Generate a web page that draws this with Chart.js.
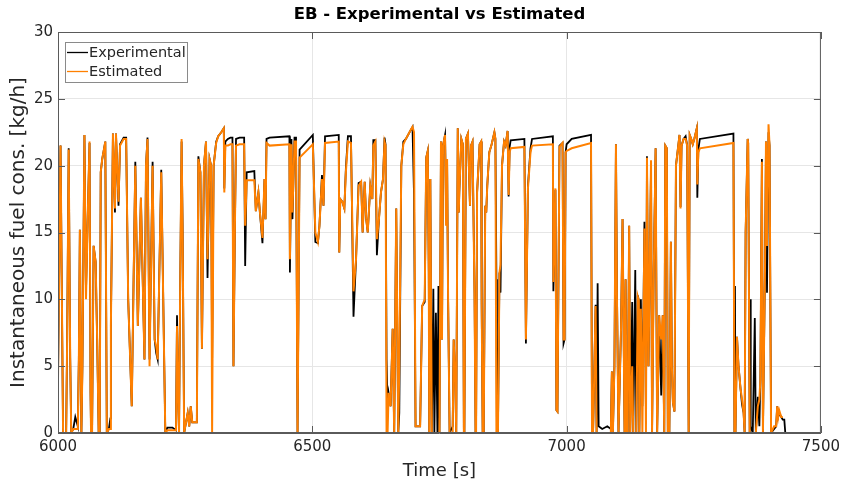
<!DOCTYPE html>
<html>
<head>
<meta charset="utf-8">
<script src="https://cdn.jsdelivr.net/npm/chart.js@4.4.0/dist/chart.umd.min.js"></script>
<style>
  html, body { margin: 0; padding: 0; background: #fff; }
  #wrap { width: 845px; height: 490px; }
</style>
</head>
<body>
<div id="wrap"><canvas id="fuelChart" width="845" height="490"></canvas></div>
<script>
// time stamps [s]
const timeS = [
  6000, 6005, 6010, 6016, 6018, 6021, 6024, 6026, 6030, 6034,
  6039, 6041, 6043, 6046, 6048, 6052, 6055, 6059, 6062, 6064,
  6065, 6067, 6070, 6074, 6077, 6080, 6082, 6084, 6087, 6093,
  6096, 6100, 6103, 6104, 6108, 6112, 6114, 6119, 6122, 6129,
  6134, 6138, 6145, 6152, 6157, 6163, 6170, 6173, 6176, 6180,
  6186, 6190, 6193, 6196, 6203, 6211, 6215, 6225, 6232, 6234,
  6236, 6238, 6240, 6243, 6245, 6248, 6255, 6258, 6261, 6264,
  6273, 6276, 6280, 6283, 6287, 6291, 6294, 6298, 6301, 6303,
  6306, 6311, 6315, 6321, 6326, 6327, 6329, 6334, 6339, 6343,
  6345, 6348, 6350, 6357, 6366, 6368, 6371, 6386, 6389, 6394,
  6397, 6402, 6406, 6408, 6410, 6416, 6455, 6456, 6459, 6461,
  6465, 6468, 6471, 6475, 6501, 6506, 6511, 6514, 6519, 6522,
  6525, 6552, 6553, 6555, 6559, 6563, 6566, 6570, 6576, 6581,
  6586, 6591, 6596, 6599, 6603, 6606, 6609, 6614, 6618, 6620,
  6624, 6627, 6631, 6635, 6639, 6642, 6644, 6646, 6648, 6650,
  6654, 6658, 6661, 6665, 6669, 6671, 6675, 6679, 6684, 6694,
  6697, 6700, 6703, 6712, 6716, 6721, 6724, 6727, 6729, 6730,
  6732, 6735, 6738, 6740, 6743, 6746, 6748, 6750, 6753, 6755,
  6757, 6761, 6763, 6765, 6767, 6770, 6776, 6778, 6781, 6783,
  6786, 6788, 6789, 6793, 6796, 6798, 6799, 6802, 6806, 6810,
  6812, 6815, 6819, 6821, 6822, 6824, 6829, 6832, 6833, 6835,
  6837, 6840, 6842, 6844, 6848, 6852, 6858, 6860, 6862, 6863,
  6865, 6868, 6870, 6873, 6877, 6880, 6884, 6886, 6888, 6890,
  6917, 6920, 6924, 6929, 6932, 6973, 6974, 6978, 6980, 6982,
  6986, 6992, 6994, 6996, 6998, 7000, 7010, 7048, 7050, 7052,
  7057, 7059, 7061, 7063, 7070, 7080, 7087, 7089, 7091, 7094,
  7097, 7099, 7102, 7107, 7110, 7114, 7116, 7118, 7120, 7123,
  7125, 7129, 7131, 7135, 7137, 7140, 7142, 7143, 7146, 7149,
  7153, 7156, 7158, 7161, 7166, 7168, 7171, 7175, 7178, 7182,
  7186, 7189, 7192, 7194, 7197, 7199, 7202, 7205, 7207, 7209,
  7212, 7215, 7222, 7224, 7226, 7230, 7234, 7237, 7240, 7242,
  7245, 7248, 7251, 7256, 7257, 7259, 7262, 7328, 7330, 7331,
  7332, 7335, 7338, 7342, 7345, 7348, 7350, 7352, 7356, 7357,
  7360, 7361, 7362, 7366, 7370, 7372, 7376, 7379, 7381, 7384,
  7386, 7390, 7392, 7394, 7397, 7399, 7402, 7408, 7412, 7414,
  7416, 7418, 7422, 7425, 7428, 7430
];

// experimental fuel consumption [kg/h]
const experimental = [
  4, 21.5, 0, 0, 7, 21.3, 5.6, 0, 0.3, 1.2,
  0.5, 5.5, 15.2, 0, 5, 22.3, 10.5, 17, 21.7, 3,
  0, 0, 14, 12.8, 7, 0, 0, 19.5, 20.5, 21.8,
  0, 0.3, 1.1, 8, 22.4, 16.5, 22.4, 17, 21.6, 22.1,
  22.1, 10, 2, 20.3, 8, 17.6, 5.5, 20, 22.1, 5.5,
  20.3, 7, 6, 5.5, 19.7, 0, 0.4, 0.4, 0.2, 8.8,
  3, 0, 10, 21.8, 15.5, 0, 1.5, 0.5, 2, 0.8,
  0.8, 20.7, 19.5, 6.3, 20, 21.8, 11.6, 20.5, 20, 5.3,
  20, 21.8, 22.2, 22.5, 22.8, 18.3, 21.8, 22, 22.1, 22.1,
  5, 16, 22, 22.1, 22.1, 12.5, 19.5, 19.6, 16.6, 18,
  16.5, 14.2, 19, 16, 22, 22.1, 22.2, 12, 22, 16,
  22.1, 22.1, 0, 21.2, 22.3, 14.3, 14.2, 15.5, 19.3, 17,
  22.2, 22.3, 13.5, 17.5, 17.3, 16.8, 19.8, 22.2, 22.2, 8.7,
  13, 18.7, 18.8, 15, 18.8, 16, 15, 18.5, 17.5, 21.9,
  21.9, 13.3, 16, 18, 19, 22.1, 21.6, 5.5, 2, 3,
  2, 7.8, 0, 16.8, 0, 1.5, 20, 21.8, 22, 22.7,
  22.9, 17.8, 0.5, 0.5, 9.5, 9.8, 20.6, 21.1, 12, 0,
  19, 0, 10.8, 0, 9, 0, 11, 0, 21.8, 7,
  21.5, 22.3, 16.8, 20.5, 10, 0, 0.5, 7, 4, 0,
  22.8, 16.5, 18, 22, 21.6, 0.3, 0, 22, 22.4, 17,
  21.5, 21.8, 10.5, 0, 0, 18, 21.6, 21.8, 9.6, 0,
  0, 17, 16.5, 18.5, 21, 21.5, 22.5, 22, 11.5, 0,
  0, 12, 10.5, 20, 21.8, 21.5, 22.6, 17.7, 21.4, 21.9,
  22, 6.7, 18.5, 21.3, 22, 22.2, 10.6, 18.2, 1.7, 1.6,
  21.5, 21.7, 6.7, 7, 21, 21.6, 22, 22.3, 0, 0,
  9.6, 0, 11.2, 0.5, 0.3, 0.5, 0.3, 4.6, 0, 5,
  21.6, 10.6, 0, 7.8, 16, 0, 11.5, 0, 0, 15.5,
  0, 9.8, 0, 12.2, 0, 10.3, 9.9, 0, 10, 2,
  15.8, 1.5, 20.7, 5, 20, 0, 11.4, 21.3, 0, 8.8,
  2.8, 8.8, 0, 21.5, 21.3, 0, 0, 14.3, 5, 2.3,
  1.6, 20, 22.3, 16.9, 21.5, 22, 22.2, 21.5, 0, 22.3,
  22, 21.6, 22, 22.8, 17.6, 21.2, 22, 22.4, 0, 11,
  0, 7.2, 5, 3.3, 2.1, 1.5, 0, 15, 22, 21.7,
  0, 10, 0.5, 0, 8.6, 0, 2.7, 0.5, 4, 20.5,
  0, 12, 21.8, 10.5, 22.5, 21.5, 0, 0.3, 0.5, 2,
  1.2, 1.5, 1.2, 1, 1, 0
];

// estimated fuel consumption [kg/h]
const estimated = [
  4, 21.5, 0, 0, 7, 21.2, 5.6, 0, 0.3, 0.3,
  0.3, 5.5, 15.2, 0, 5, 22.3, 10, 17, 21.8, 3,
  0, 0, 14, 12.8, 7, 0, 0, 19.5, 20.5, 21.8,
  0, 0.3, 0.3, 8, 22.4, 16.8, 22.4, 17.3, 21.5, 22,
  22, 10, 2, 20, 8, 17.6, 5.5, 20, 22, 5,
  20, 7, 6.5, 5.5, 19.5, 0, 0.2, 0.2, 0.2, 8,
  3, 0, 10, 22, 15, 0, 1.5, 0.5, 2, 0.8,
  0.8, 20.5, 19.5, 6.3, 20, 21.8, 13, 20.5, 20, 0,
  20, 21.7, 22.2, 22.5, 22.8, 18, 21.5, 21.5, 21.6, 21.6,
  5, 16, 21.5, 21.6, 21.6, 15.5, 18.9, 18.9, 16.6, 18,
  16.5, 14.6, 19, 16, 21.7, 21.5, 21.6, 13, 21.6, 16.5,
  21.8, 21.8, 0, 20.6, 21.6, 15, 14.3, 15.5, 19, 17,
  21.7, 21.8, 13.5, 17.5, 17.3, 16.8, 19.5, 21.8, 21.7, 10.6,
  13, 18.5, 18.8, 15, 18.8, 16, 15, 18.5, 17.5, 21.5,
  21.8, 14.5, 16, 18, 19, 21.8, 21.5, 0, 0, 3,
  2, 7.8, 0, 16.8, 0, 5, 20, 21.6, 22, 22.7,
  22.9, 22.5, 0.5, 0.5, 9.5, 10, 20.6, 21.1, 12, 0,
  19, 0, 0, 0, 0, 0, 0, 0, 21.8, 7,
  21.5, 22.3, 15.5, 20.5, 10, 0, 0, 7, 4, 0,
  22.8, 16.5, 18, 22, 21.6, 0, 0, 22, 22.4, 17,
  21.5, 21.8, 10, 0, 0, 18, 21.6, 21.8, 9.5, 0,
  0, 17, 16.5, 18.5, 21, 21.5, 22.5, 22, 0, 0,
  0, 12, 12.6, 20, 21.8, 21.5, 22.6, 17.8, 21, 21.3,
  21.4, 7, 18.3, 21, 21.5, 21.6, 11.3, 18.3, 1.7, 1.6,
  21.4, 21.7, 7, 7, 21, 21.1, 21.3, 21.7, 0, 0,
  9.5, 0, 0, 0, 0, 0, 0, 4.6, 0, 5,
  21.6, 10, 0, 7.8, 16, 0, 11.5, 0, 0, 15.5,
  0, 5, 0, 0, 0, 10.2, 9.9, 0, 9.3, 0,
  15.3, 0, 20.6, 5, 20.4, 0, 11, 21.3, 0, 8.8,
  7, 8.8, 0, 21.5, 21.3, 0, 0, 14.3, 5, 2.3,
  1.6, 20, 22.3, 16.8, 21.5, 22, 22, 21.5, 0, 22.3,
  22, 21.6, 22, 22.8, 18.6, 21, 21.3, 21.7, 0, 0,
  0, 7.2, 5, 3.3, 2.5, 1.5, 0, 15, 22, 21.7,
  0, 0, 0, 0, 0, 0, 2, 2.5, 4, 20.3,
  0, 12, 21.8, 14, 23.1, 21.5, 0, 0.5, 0.5, 2,
  1.2, 1.7, 1.2, 1.2, null, null
];

const xTicks = [6000, 6500, 7000, 7500];
const yTicks = [0, 5, 10, 15, 20, 25, 30];

const chartTitle = "EB - Experimental vs Estimated";
const axisColor = "#262626";
const boxColor = "#5a5a5a";
const fontFam = "'DejaVu Sans', Verdana, sans-serif";

function toPoints(values) {
  return timeS.map((t, i) => ({ x: t, y: values[i] }));
}

// title centred over the plot area (not the whole canvas)
const titlePlugin = {
  id: "plotTitle",
  afterDraw(chart) {
    const { ctx, chartArea: a } = chart;
    ctx.save();
    ctx.fillStyle = "#000";
    ctx.font = "bold 16.5px " + fontFam;
    ctx.textAlign = "center";
    ctx.textBaseline = "middle";
    ctx.fillText(chartTitle, (a.left + a.right) / 2, 15);
    ctx.restore();
  }
};

// closed box with inward ticks, like the original figure
const boxPlugin = {
  id: "box",
  afterDatasetsDraw(chart) {
    const { ctx, chartArea: a, scales: { x, y } } = chart;
    ctx.save();
    ctx.strokeStyle = boxColor;
    ctx.lineWidth = 1;
    ctx.strokeRect(a.left + 0.5, a.top + 0.5, a.right - a.left - 1, a.bottom - a.top - 1);
    ctx.beginPath();
    xTicks.forEach(v => {
      const px = Math.round(x.getPixelForValue(v)) + 0.5;
      ctx.moveTo(px, a.bottom); ctx.lineTo(px, a.bottom - 7);
      ctx.moveTo(px, a.top); ctx.lineTo(px, a.top + 7);
    });
    yTicks.forEach(v => {
      const py = Math.round(y.getPixelForValue(v)) + 0.5;
      ctx.moveTo(a.left, py); ctx.lineTo(a.left + 7, py);
      ctx.moveTo(a.right, py); ctx.lineTo(a.right - 7, py);
    });
    ctx.stroke();
    ctx.restore();
  }
};

// legend box in the top-left corner of the plot
const legendPlugin = {
  id: "boxLegend",
  afterDraw(chart) {
    const { ctx, chartArea: a } = chart;
    const left = a.left + 7, top = a.top + 10;
    const w = 122, h = 40;
    ctx.save();
    ctx.fillStyle = "#fff";
    ctx.fillRect(left, top, w, h);
    ctx.strokeStyle = "#8a8a8a";
    ctx.lineWidth = 1;
    ctx.strokeRect(left + 0.5, top + 0.5, w, h);
    ctx.font = "14.5px " + fontFam;
    ctx.textBaseline = "middle";
    chart.data.datasets.forEach((ds, i) => {
      const yy = top + 10.5 + i * 19;
      ctx.strokeStyle = ds.borderColor;
      ctx.lineWidth = 1.3;
      ctx.beginPath();
      ctx.moveTo(left + 2, yy); ctx.lineTo(left + 23, yy);
      ctx.stroke();
      ctx.fillStyle = axisColor;
      ctx.fillText(ds.label, left + 24, yy + 0.5);
    });
    ctx.restore();
  }
};

new Chart(document.getElementById("fuelChart"), {
  type: "line",
  data: {
    datasets: [
      {
        label: "Experimental",
        data: toPoints(experimental),
        borderColor: "#000000",
        borderWidth: 1.8,
        pointRadius: 0,
        tension: 0,
        order: 2
      },
      {
        label: "Estimated",
        data: toPoints(estimated),
        borderColor: "#ff8000",
        borderWidth: 2,
        pointRadius: 0,
        tension: 0,
        order: 1
      }
    ]
  },
  options: {
    responsive: false,
    animation: false,
    layout: { padding: { left: 0, right: 23, top: 32, bottom: 0 } },
    plugins: {
      legend: { display: false },
      tooltip: { enabled: false },
      title: { display: false }
    },
    scales: {
      x: {
        type: "linear",
        min: 6000,
        max: 7500,
        afterFit: s => { s.height = 57; },
        afterBuildTicks: s => { s.ticks = xTicks.map(v => ({ value: v })); },
        ticks: {
          color: axisColor,
          font: { family: fontFam, size: 15 },
          padding: 5,
          maxRotation: 0,
          callback: v => String(v)
        },
        grid: { color: "#e6e6e6", drawTicks: false },
        border: { color: boxColor },
        title: {
          display: true,
          text: "Time [s]",
          color: axisColor,
          font: { family: fontFam, size: 18 },
          padding: { top: 0, bottom: 8 }
        }
      },
      y: {
        min: 0,
        max: 30,
        afterFit: s => { s.width = 58; },
        afterBuildTicks: s => { s.ticks = yTicks.map(v => ({ value: v })); },
        ticks: {
          color: axisColor,
          font: { family: fontFam, size: 15 },
          padding: 5,
          callback: v => String(v)
        },
        grid: { color: "#e6e6e6", drawTicks: false },
        border: { color: boxColor },
        title: {
          display: true,
          text: "Instantaneous fuel cons. [kg/h]",
          color: axisColor,
          font: { family: fontFam, size: 20 },
          padding: { top: 7, bottom: 0 }
        }
      }
    }
  },
  plugins: [boxPlugin, legendPlugin, titlePlugin]
});
</script>
</body>
</html>
